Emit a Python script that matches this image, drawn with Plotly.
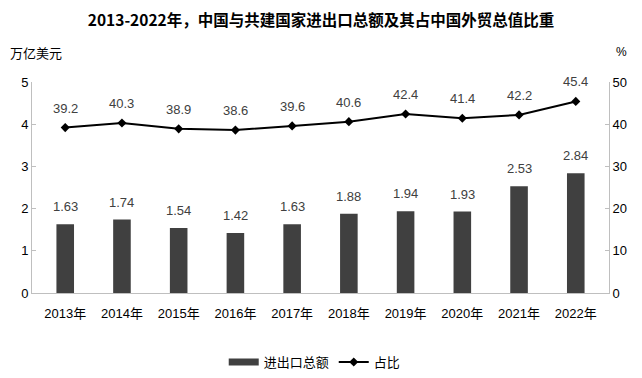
import plotly.graph_objects as go

years = ["2013年", "2014年", "2015年", "2016年", "2017年", "2018年", "2019年", "2020年", "2021年", "2022年"]
trade_value = [1.63, 1.74, 1.54, 1.42, 1.63, 1.88, 1.94, 1.93, 2.53, 2.84]
share_pct = [39.2, 40.3, 38.9, 38.6, 39.6, 40.6, 42.4, 41.4, 42.2, 45.4]
left_ticks = [0, 1, 2, 3, 4, 5]
right_ticks = [0, 10, 20, 30, 40, 50]

FONT = "Liberation Sans, Noto Sans CJK SC, sans-serif"
AXIS_COLOR = "#bfbfbf"
TEXT_COLOR = "#404040"

fig = go.Figure()
fig.add_trace(go.Bar(
    x=years, y=trade_value, name="进出口总额",
    marker=dict(color="#404040", line=dict(width=0)),
    yaxis="y", showlegend=False,
))
# legend proxy with a wide rectangular swatch like the original
fig.add_trace(go.Scatter(
    x=[None], y=[None], name="进出口总额", mode="lines",
    line=dict(color="#404040", width=7), yaxis="y",
))
fig.add_trace(go.Scatter(
    x=years, y=share_pct, name="占比", mode="lines+markers",
    line=dict(color="#000000", width=2),
    marker=dict(symbol="diamond", size=7, color="#000000"),
    yaxis="y2",
))

annotations = []
for x, v in zip(years, trade_value):
    annotations.append(dict(x=x, y=v, xref="x", yref="y", text=f"{v:.2f}",
                            showarrow=False, yanchor="bottom", yshift=8,
                            font=dict(size=13, color=TEXT_COLOR, family=FONT)))
for x, v in zip(years, share_pct):
    annotations.append(dict(x=x, y=v, xref="x", yref="y2", text=f"{v:.1f}",
                            showarrow=False, yanchor="bottom", yshift=10,
                            font=dict(size=13, color=TEXT_COLOR, family=FONT)))
annotations.append(dict(x=-0.041, y=1.14, xref="paper", yref="paper", xanchor="left", yanchor="middle",
                        text="万亿美元", showarrow=False,
                        font=dict(size=13, color="#000000", family="Noto Sans CJK SC")))
annotations.append(dict(x=1.0225, y=1.14, xref="paper", yref="paper", xanchor="center", yanchor="middle",
                        text="%", showarrow=False,
                        font=dict(size=12, color="#000000", family=FONT)))

fig.update_layout(
    width=634, height=370,
    margin=dict(l=24, r=33, t=74, b=85, autoexpand=False),
    paper_bgcolor="white", plot_bgcolor="white",
    title=dict(text="<b>2013-2022年，中国与共建国家进出口总额及其占中国外贸总值比重</b>",
               x=0.4937, xanchor="center", y=0.965, yanchor="middle",
               font=dict(size=15.5, color="#000000", family="Noto Sans CJK SC")),
    bargap=0.69,
    showlegend=True,
    legend=dict(orientation="h", x=0.49, xanchor="center", y=-0.327, yanchor="middle",
                font=dict(size=13, color="#000000", family="Noto Sans CJK SC"),
                itemwidth=30, traceorder="normal"),
    xaxis=dict(showline=True, linecolor=AXIS_COLOR, linewidth=1, ticks="",
               tickfont=dict(size=13, color="#000000", family=FONT),
               showgrid=False, mirror=False, automargin=False, ticklabelstandoff=8),
    yaxis=dict(range=[0, 5], tickvals=left_ticks, showgrid=False, zeroline=False,
               showline=True, linecolor=AXIS_COLOR, linewidth=1,
               ticks="inside", ticklen=4, tickcolor=AXIS_COLOR, automargin=False,
               tickfont=dict(size=13, color="#000000", family=FONT)),
    yaxis2=dict(range=[0, 50], tickvals=right_ticks, overlaying="y", side="right",
                showgrid=False, zeroline=False, automargin=False,
                showline=True, linecolor=AXIS_COLOR, linewidth=1,
                ticks="inside", ticklen=4, tickcolor=AXIS_COLOR,
                tickfont=dict(size=13, color="#000000", family=FONT)),
    annotations=annotations,
)

fig.write_html("out.html")
